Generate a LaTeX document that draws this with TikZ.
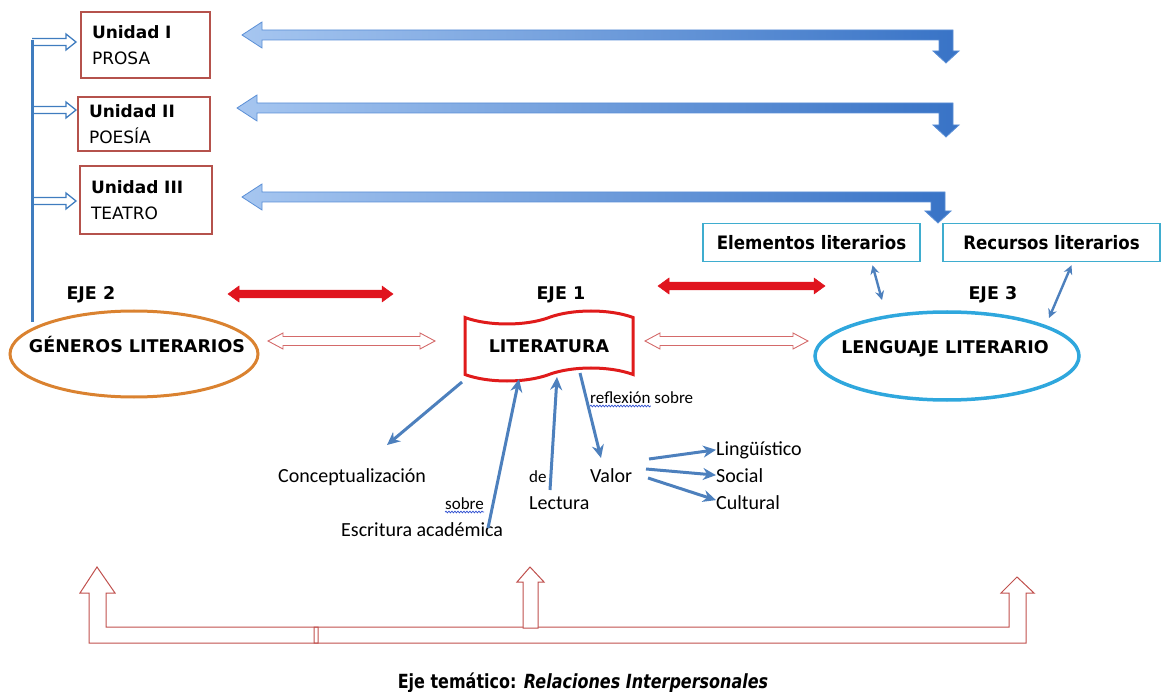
\documentclass[tikz,border=0pt]{standalone}
\usepackage{fontspec}
\setmainfont{Carlito}
\newfontfamily\verdfont{DejaVu Sans}
\newfontfamily\tahfont{DejaVu Sans}[FakeStretch=0.9]
\newfontfamily\titfont{DejaVu Sans}[FakeStretch=0.82]
\usetikzlibrary{arrows.meta,shapes.geometric,shapes.symbols,calc,positioning,decorations.pathmorphing}

\definecolor{unitred}{HTML}{B5524C}
\definecolor{lineblue}{HTML}{3F7CBF}
\definecolor{arrlight}{HTML}{A6C6F0}
\definecolor{arrdark}{HTML}{3873C6}
\definecolor{arredge}{HTML}{5B8FD6}
\definecolor{ejered}{HTML}{E0141E}
\definecolor{hollowred}{HTML}{D46A6A}
\definecolor{genorange}{HTML}{DA8230}
\definecolor{lengblue}{HTML}{2FA7DD}
\definecolor{litred}{HTML}{E01B1B}
\definecolor{boxcyan}{HTML}{3FADCF}
\definecolor{arrblue}{HTML}{4D80BD}
\definecolor{basered}{HTML}{C0504D}
\definecolor{spellblue}{HTML}{3050D0}

\newcommand{\px}[1]{\fontsize{#1}{#1}\selectfont}

% band arrow: points left, turns down at its right end
\newcommand{\bandarrow}[4]{%
  \draw[draw=arredge, left color=arrlight, right color=arrdark, line width=0.8]
    (#2,#1) -- (#2+20,#1-13) -- (#2+20,#1-5) -- (#3,#1-5) -- (#3,#4-12)
    -- (#3+6,#4-12) -- (#3-7,#4) -- (#3-20,#4-12) -- (#3-14,#4-12)
    -- (#3-14,#1+5) -- (#2+20,#1+5) -- (#2+20,#1+13) -- cycle;}

% two-headed block arrow: style, x1, x2, y, shaft half, head half, head length
\newcommand{\dblarrow}[7]{%
  \draw[#1] (#2,#4) -- (#2+#7,#4-#6) -- (#2+#7,#4-#5) -- (#3-#7,#4-#5)
    -- (#3-#7,#4-#6) -- (#3,#4) -- (#3-#7,#4+#6) -- (#3-#7,#4+#5)
    -- (#2+#7,#4+#5) -- (#2+#7,#4+#6) -- cycle;}

\begin{document}
\begin{tikzpicture}[x=1pt,y=-1pt,
  unitbox/.style={draw=unitred, line width=2.5, align=left, inner xsep=11,
    inner ysep=0, font=\verdfont\fontsize{17}{26}\selectfont},
  hd/.style={font=\verdfont\bfseries\px{17.5}},
  elembox/.style={draw=boxcyan, line width=1.5, minimum width=217,
    minimum height=38, inner sep=0, font=\tahfont\bfseries\px{18.5}},
  txt/.style={font=\px{20}, inner sep=0},
  smalltxt/.style={font=\px{17}, inner sep=0},
  trunk/.style={draw=lineblue, line width=3},
  branch/.style={draw=lineblue, line width=1.3},
  lowarr/.style={draw=arrblue, line width=3, -{Stealth[length=13pt,width=12pt]}},
  elemarr/.style={draw=arrblue, line width=2.4,
    {Stealth[length=9pt,width=9pt]}-{Stealth[length=9pt,width=9pt]}},
  wavy/.style={draw=spellblue, line width=0.7, decorate,
    decoration={snake, amplitude=0.9, segment length=3}},
  baseline/.style={draw=basered, line width=1}]

\useasboundingbox (0,0) rectangle (1167,692);

% units
\node[unitbox, minimum width=129, minimum height=66, text width=107] (u1) at (145.5,45)
  {\textbf{Unidad I}\\PROSA};
\node[unitbox, minimum width=132, minimum height=54, text width=110] (u2) at (144,124)
  {\textbf{Unidad II}\\POESÍA};
\node[unitbox, minimum width=132, minimum height=68, text width=110] (u3) at (146,200)
  {\textbf{Unidad III}\\TEATRO};

\draw[trunk] (32,40) -- (32,322);
\foreach \yy in {42,110,201}
  \draw[branch] (32,\yy-3.5) -- (66,\yy-3.5) -- (66,\yy-8) -- (76,\yy)
    -- (66,\yy+8) -- (66,\yy+3.5) -- (32,\yy+3.5);

\bandarrow{35}{242}{953}{63}
\bandarrow{108}{237}{953}{137}
\bandarrow{197}{242}{945}{223}

% ejes
\node[hd, anchor=base west] (eje2) at (63,300) {EJE 2};
\node[hd, anchor=base west] (eje1) at (533,300) {EJE 1};
\node[hd, anchor=base west] (eje3) at (965,300) {EJE 3};

\dblarrow{fill=ejered, draw=ejered, line width=0.5}{228}{393}{294}{3.8}{8}{11}
\dblarrow{fill=ejered, draw=ejered, line width=0.5}{658}{825}{286}{3.8}{8}{11}

\node[ellipse, draw=genorange, line width=3, minimum width=248, minimum height=86,
  inner sep=0] (gen) at (134,354) {};
\node[hd, anchor=base] (gentxt) at (137,353) {GÉNEROS LITERARIOS};

\node[tape, draw=litred, line width=3, minimum width=168, minimum height=70,
  tape bend height=13, inner sep=0] (lit) at (549,346) {};
\node[hd, anchor=base] (littxt) at (549,353) {LITERATURA};

\node[ellipse, draw=lengblue, line width=3.5, minimum width=264, minimum height=88,
  inner sep=0] (leng) at (947,356) {};
\node[hd, anchor=base] (lengtxt) at (945,354) {LENGUAJE LITERARIO};

\dblarrow{draw=hollowred, fill=white, line width=0.9}{268}{435}{341}{4.5}{8}{15}
\dblarrow{draw=hollowred, fill=white, line width=0.9}{645}{808}{341}{4.5}{8}{15}

\node[elembox] (elem) at (811.5,242.5) {Elementos literarios};
\node[elembox] (recu) at (1051.5,242.5) {Recursos literarios};
\coordinate (elemend) at (882,300);
\coordinate (recuend) at (1049,318);
\draw[elemarr] ($(elem.south)+(61,3)$) -- (elemend);
\draw[elemarr] ($(recu.south)+(20,3)$) -- (recuend);

% lower texts
\node[txt, anchor=base west] (conc) at (278,482) {Conceptualización};
\node[txt, anchor=base west] (escr) at (341,536) {Escritura académica};
\node[txt, anchor=base west] (lect) at (529,509) {Lectura};
\node[txt, anchor=base west] (valor) at (590,482) {Valor};
\node[txt, anchor=base west] (ling) at (716,455) {Lingüístico};
\node[txt, anchor=base west] (soc) at (716,482) {Social};
\node[txt, anchor=base west] (cult) at (716,509) {Cultural};
\node[smalltxt, anchor=base west] (refl) at (590,403) {reflexión};
\node[smalltxt, base right=3.5pt of refl] (reflsob) {sobre};
\node[smalltxt, anchor=base west] (sob) at (445,509) {sobre};
\node[smalltxt, anchor=base west] (de) at (529,482) {de};
\draw[wavy] ($(refl.base west)+(0,3)$) -- ($(refl.base east)+(0,3)$);
\draw[wavy] ($(sob.base west)+(0,3)$) -- ($(sob.base east)+(0,3)$);

\coordinate (litsw) at (462,382);
\coordinate (litv) at (580,373);
\coordinate (lite) at (519,379);
\coordinate (litl) at (557,377);
\coordinate (conctip) at (387,445);
\coordinate (escrtop) at (488,528);
\coordinate (lecttop) at (550,490);
\coordinate (valortip) at (601,458);
\draw[lowarr] (litsw) -- (conctip);
\draw[lowarr] (escrtop) -- (lite);
\draw[lowarr] (lecttop) -- (litl);
\draw[lowarr] (litv) -- (valortip);
\draw[lowarr] (649,459) -- (ling.west);
\draw[lowarr] (646,469) -- (soc.west);
\draw[lowarr] (648,478) -- ($(cult.west)+(0,-2)$);

% eje tematico
\draw[baseline] (318,627) -- (106,627) -- (106,593) -- (115,593) -- (97,567)
  -- (80,593) -- (89,593) -- (89,643) -- (318,643) -- cycle;
\draw[baseline] (314,627) -- (1009,627) -- (1009,593) -- (1001,593) -- (1017,577)
  -- (1034,593) -- (1026,593) -- (1026,643) -- (314,643) -- cycle;
\draw[baseline, fill=white] (523,628) -- (523,582) -- (517,582) -- (530,567)
  -- (544,582) -- (538,582) -- (538,628) -- cycle;
\node[font=\titfont\bfseries\px{19.5}, anchor=base] (tema) at (583,688)
  {Eje temático: \textit{Relaciones Interpersonales}};
\end{tikzpicture}
\end{document}
